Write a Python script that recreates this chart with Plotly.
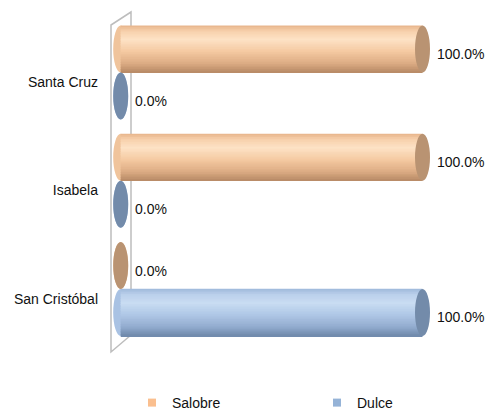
import numpy as np
import plotly.graph_objects as go

# ---------------- data ----------------
categories = ["San Cristóbal", "Isabela", "Santa Cruz"]   # bottom -> top
series_names = ["Salobre", "Dulce"]
salobre = [0.0, 1.0, 1.0]
dulce = [1.0, 0.0, 0.0]
series_values = [salobre, dulce]

# ---------------- styles ----------------
base_colors = ["#FABF8F", "#95B3D7"]
cap_colors = ["#B99372", "#738BAA"]
left_colors = ["#F0C49C", "#A9C2E3"]
gradients = [
    [(0.0, "#E6B48A"), (0.12, "#F7D0AB"), (0.30, "#FDE2C6"), (0.55, "#F5CAA2"),
     (0.80, "#DDAD85"), (1.0, "#B78965")],
    [(0.0, "#9EB8DA"), (0.12, "#BBD0EB"), (0.30, "#C9DCF2"), (0.55, "#AFC7E6"),
     (0.80, "#93ADD0"), (1.0, "#6F88AA")],
]
FONT = "Liberation Sans, Arial, sans-serif"
FS = 14

W, H = 487, 411
ML, MR, MT, MB = 100, 0, 5, 51
X0_PX, X_SCALE = 120.7, 301.8          # px of value 0, px per unit
Y0_PX, Y_SCALE = 289.0, 108.25         # px of category 0 center, px per unit
x_range = [-(X0_PX - ML) / X_SCALE, (W - MR - X0_PX) / X_SCALE]
y_range = [-(H - MB - Y0_PX) / Y_SCALE, (Y0_PX - MT) / Y_SCALE]
PLOT_W = W - ML - MR
PLOT_H = H - MT - MB

GAP = 0.217      # series offset from category centre
THICK = 0.434    # cylinder thickness
N = 28           # gradient stripes
CAP_W = 7.5 / X_SCALE


def hex2rgb(h):
    h = h.lstrip("#")
    return [int(h[i:i + 2], 16) for i in (0, 2, 4)]


def grad_color(stops, t):
    for (t1, c1), (t2, c2) in zip(stops[:-1], stops[1:]):
        if t1 <= t <= t2:
            f = (t - t1) / (t2 - t1)
            a, b = hex2rgb(c1), hex2rgb(c2)
            r = [round(a[i] + (b[i] - a[i]) * f) for i in range(3)]
            return "rgb(%d,%d,%d)" % tuple(r)
    return stops[-1][1]


def px2x(px):
    return (px - X0_PX) / X_SCALE


def px2y(py):
    return (Y0_PX - py) / Y_SCALE


idx = np.arange(len(categories))
positions = [idx + GAP, idx - GAP]   # Salobre above, Dulce below

fig = go.Figure()
shapes = []
annotations = []

# back wall of the 3-D chart
wall = [(111, 25), (131, 12), (131, 335), (111, 352)]
path = "M " + " L ".join("%f,%f" % (px2x(a), px2y(b)) for a, b in wall) + " Z"
shapes.append(dict(type="path", path=path, xref="x", yref="y",
                   line=dict(color="#BDBDBD", width=1.5), fillcolor="rgba(0,0,0,0)",
                   layer="below"))

for s, name in enumerate(series_names):
    vals = series_values[s]
    pos = positions[s]
    # cylinder body as stacked stripes
    for k in range(N):
        t = (k + 0.5) / N
        off = THICK / 2 - t * THICK
        fig.add_trace(go.Bar(
            x=vals, y=pos + off, orientation="h", width=THICK / N * 1.15,
            marker=dict(color=grad_color(gradients[s], t), line=dict(width=0)),
            showlegend=False, hoverinfo="skip"))
    for v, p in zip(vals, pos):
        # rounded left end
        shapes.append(dict(type="circle", xref="x", yref="y",
                           x0=-CAP_W, x1=CAP_W, y0=p - THICK / 2, y1=p + THICK / 2,
                           fillcolor=left_colors[s], line=dict(width=0), layer="below"))
        # end cap
        shapes.append(dict(type="circle", xref="x", yref="y",
                           x0=v - CAP_W, x1=v + CAP_W, y0=p - THICK / 2, y1=p + THICK / 2,
                           fillcolor=cap_colors[s], line=dict(width=0), layer="above"))
        annotations.append(dict(x=v, y=p, xref="x", yref="y", text="%.1f%%" % (v * 100),
                                showarrow=False, xanchor="left", yanchor="middle",
                                xshift=12, yshift=-5,
                                font=dict(family=FONT, size=FS, color="#111111")))

# legend entries (one legend box per series, placed like the original)
legend_ids = ["legend", "legend2"]
legend_text_px = [172, 357]          # where each legend text starts
for s, name in enumerate(series_names):
    fig.add_trace(go.Scatter(x=[None], y=[None], mode="markers", name=name,
                             marker=dict(color=base_colors[s], symbol="square", size=8),
                             legend=legend_ids[s], showlegend=True))

LEG_Y = -(403 - (H - MB)) / PLOT_H
legend_common = dict(orientation="h", xanchor="left", y=LEG_Y, yanchor="middle",
                     font=dict(family=FONT, size=FS, color="#111111"),
                     bgcolor="rgba(0,0,0,0)", borderwidth=0, itemwidth=30)

fig.update_layout(
    width=W, height=H,
    margin=dict(l=ML, r=MR, t=MT, b=MB, autoexpand=False),
    paper_bgcolor="white", plot_bgcolor="white",
    barmode="overlay",
    font=dict(family=FONT, size=FS, color="#111111"),
    xaxis=dict(range=x_range, visible=False, fixedrange=True),
    yaxis=dict(range=y_range, tickmode="array", tickvals=idx - 0.09,
               ticktext=categories, showgrid=False, zeroline=False,
               showline=False, ticks="", fixedrange=True,
               ticklabelstandoff=1),
    shapes=shapes,
    annotations=annotations,
    legend=dict(x=(legend_text_px[0] - 40 - ML) / PLOT_W, **legend_common),
    legend2=dict(x=(legend_text_px[1] - 40 - ML) / PLOT_W, **legend_common),
    showlegend=True,
)

fig.write_html("out.html", config={"displayModeBar": False},
               post_script="document.body.style.margin='0';")
